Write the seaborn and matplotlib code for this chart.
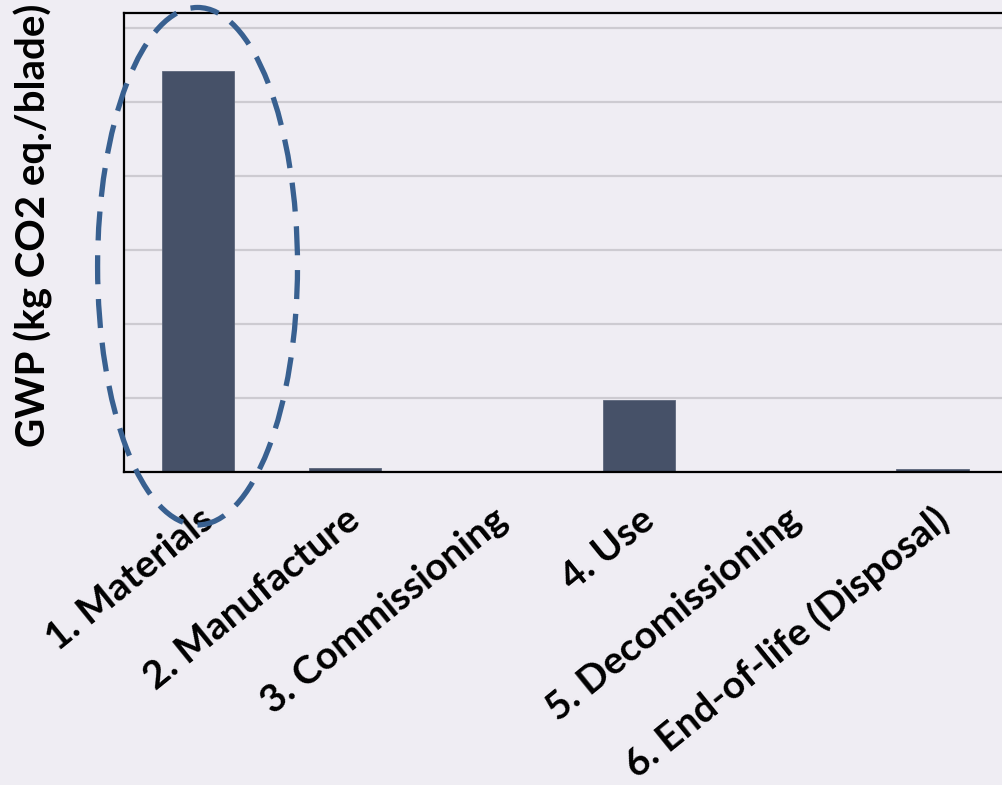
import matplotlib
matplotlib.use("Agg")
import matplotlib.pyplot as plt
from matplotlib.patches import Ellipse
import seaborn as sns

# 各ライフサイクル段階のGWP（目盛り線1本分を1単位として読み取り）
stages = ["1. Materials", "2. Manufacture", "3. Commissioning", "4. Use",
          "5. Decomissioning", "6. End-of-life (Disposal)"]
gwp = [5.42, 0.06, 0.0, 0.97, 0.0, 0.04]

bg = "#efedf3"
bar_color = "#465168"
ring_color = "#386090"

sns.set_theme(style="whitegrid")
plt.rcParams["font.family"] = ["Lato", "DejaVu Sans"]

fig = plt.figure(figsize=(10.02, 7.85), dpi=100, facecolor=bg)
ax = fig.add_axes([0.1238, 0.3987, 0.8802, 0.5847], facecolor=bg)

sns.barplot(x=stages, y=gwp, color=bar_color, width=0.49, saturation=1,
            edgecolor="#5d677b", linewidth=0.6, ax=ax)

ax.set_xlim(-0.5, 5.5)
ax.set_ylim(0, 6.2)
ax.set_yticks(range(7))
ax.set_yticklabels([])
ax.grid(axis="y", color="#cdcbd1", linewidth=1.6)
ax.grid(axis="x", visible=False)
ax.tick_params(axis="both", length=0)
ax.tick_params(axis="x", pad=21)

for side in ["left", "bottom", "top"]:
    ax.spines[side].set_color("black")
    ax.spines[side].set_linewidth(1.6)
ax.spines["right"].set_visible(False)

for lab in ax.get_xticklabels():
    lab.set_rotation(39)
    lab.set_ha("right")
    lab.set_va("top")
    lab.set_rotation_mode("anchor")
    lab.set_fontsize(28)
    lab.set_fontweight("bold")
    lab.set_color("black")

ax.set_xlabel("")
ax.set_ylabel("GWP (kg CO2 eq./blade)", fontsize=29, fontweight="bold", color="black")
ax.yaxis.set_label_coords(-0.08, 0.538)

# 材料段階を囲む破線の楕円
ring = Ellipse((0.0, 2.78), width=1.36, height=6.99, fill=False,
               edgecolor=ring_color, linewidth=3.8, linestyle=(0, (5.5, 2.8)),
               clip_on=False, zorder=5)
ax.add_patch(ring)

fig.savefig("out.png", dpi=100, facecolor=bg)
